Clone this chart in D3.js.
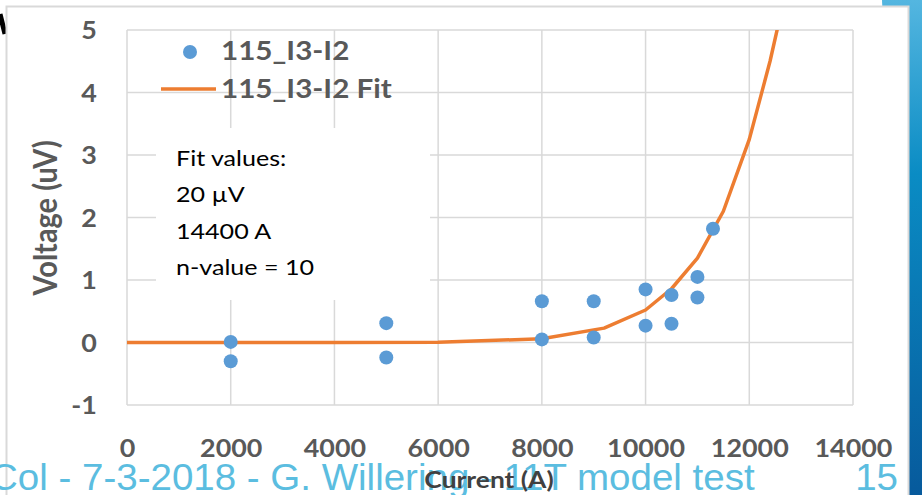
<!DOCTYPE html>
<html>
<head>
<meta charset="utf-8">
<script src="https://cdn.jsdelivr.net/npm/d3@7"></script>
<style>
  body { margin: 0; background: #fff; }
  svg { display: block; }
</style>
</head>
<body>
<script>
// measured points (current in A, voltage in uV)
var pointCurrent = [2000, 2000, 5000, 5000, 8000, 8000, 9000, 9000, 10000, 10000, 10500, 10500, 11000, 11000, 11300];
var pointVoltage = [0.01, -0.30, 0.31, -0.24, 0.66, 0.05, 0.66, 0.08, 0.85, 0.27, 0.76, 0.30, 1.05, 0.72, 1.82];

// fit curve as drawn
var fitCurrent = [0, 2000, 4000, 6000, 8000, 9200, 10000, 10500, 11000, 11500, 12000, 12400, 12550];
var fitVoltage = [0, 0, 0, 0.003, 0.06, 0.23, 0.52, 0.86, 1.35, 2.1, 3.25, 4.5, 5.05];

var xTicks = [0, 2000, 4000, 6000, 8000, 10000, 12000, 14000];
var yTicks = [-1, 0, 1, 2, 3, 4, 5];

var fitLines = ["Fit values:", "20 \u00b5V", "14400 A", "n-value = 10"];

var W = 922, H = 495;
var stretch = 1.12;

var svg = d3.select("body")
  .append("svg")
    .attr("width", W)
    .attr("height", H);

// slide decoration on the right
var grad = svg.append("defs").append("linearGradient")
    .attr("id", "band").attr("x1", 0).attr("y1", 0).attr("x2", 0).attr("y2", 1);
grad.append("stop").attr("offset", "0%").attr("stop-color", "#54b6e0");
grad.append("stop").attr("offset", "35%").attr("stop-color", "#0a8cc4");
grad.append("stop").attr("offset", "100%").attr("stop-color", "#075a9c");

svg.append("path")
    .attr("d", "M882,0 L922,0 L922,495 L905,495 Z")
    .attr("fill", "url(#band)");

svg.append("line")
    .attr("x1", 0).attr("y1", 14).attr("x2", 5).attr("y2", 34)
    .attr("stroke", "#000").attr("stroke-width", 5);

// chart frame
svg.append("rect")
    .attr("x", 6.5).attr("y", 6.5)
    .attr("width", 902).attr("height", 510)
    .attr("fill", "#fff")
    .attr("stroke", "#d9d9d9")
    .attr("stroke-width", 2);

var x = d3.scaleLinear().domain([0, 14000]).range([127, 853]);
var y = d3.scaleLinear().domain([-1, 5]).range([405, 30]);

// grid
svg.append("g").selectAll("line")
    .data(xTicks)
  .enter().append("line")
    .attr("x1", function(d) { return x(d); })
    .attr("x2", function(d) { return x(d); })
    .attr("y1", y(5)).attr("y2", y(-1))
    .attr("stroke", "#d9d9d9").attr("stroke-width", 1.5);

svg.append("g").selectAll("line")
    .data(yTicks)
  .enter().append("line")
    .attr("x1", x(0)).attr("x2", x(14000))
    .attr("y1", function(d) { return y(d); })
    .attr("y2", function(d) { return y(d); })
    .attr("stroke", "#d9d9d9").attr("stroke-width", 1.5);

// axes labels
var xAxis = svg.append("g")
    .attr("transform", "translate(0," + y(-1) + ")")
    .call(d3.axisBottom(x).tickValues(xTicks).tickSize(0).tickFormat(function(d) { return String(d); }));
xAxis.select(".domain").remove();
xAxis.selectAll("text")
    .attr("y", 52).attr("dy", null)
    .attr("transform", "scale(" + stretch + ",1)")
    .style("font-family", "Lato").style("font-weight", "bold")
    .style("font-size", "24px").style("fill", "#595959");

var yAxis = svg.append("g")
    .attr("transform", "translate(" + x(0) + ",0)")
    .call(d3.axisLeft(y).tickValues(yTicks).tickSize(0).tickFormat(function(d) { return String(d); }));
yAxis.select(".domain").remove();
yAxis.selectAll("text")
    .attr("x", -27).attr("dy", "0.36em")
    .attr("transform", "scale(" + stretch + ",1)")
    .style("font-family", "Lato").style("font-weight", "bold")
    .style("font-size", "24px").style("fill", "#595959");

// text box with fit values
svg.append("rect")
    .attr("x", 156).attr("y", 128)
    .attr("width", 274).attr("height", 172)
    .attr("fill", "#fff");

svg.append("g").selectAll("text")
    .data(fitLines)
  .enter().append("text")
    .attr("transform", function(d, i) { return "translate(176," + (166 + i * 36.3) + ") scale(1.14,1)"; })
    .style("font-family", "Lato").style("font-size", "22px").style("fill", "#000")
    .text(function(d) { return d; });

// fit curve
svg.append("clipPath").attr("id", "plot")
  .append("rect")
    .attr("x", x(0)).attr("y", y(5))
    .attr("width", x(14000) - x(0)).attr("height", y(-1) - y(5));

var line = d3.line()
    .x(function(d) { return x(d[0]); })
    .y(function(d) { return y(d[1]); });

svg.append("path")
    .datum(d3.zip(fitCurrent, fitVoltage))
    .attr("clip-path", "url(#plot)")
    .attr("d", line)
    .attr("fill", "none")
    .attr("stroke", "#ed7d31")
    .attr("stroke-width", 3.5)
    .attr("stroke-linejoin", "round");

// measured points
svg.append("g").selectAll("circle")
    .data(d3.zip(pointCurrent, pointVoltage))
  .enter().append("circle")
    .attr("cx", function(d) { return x(d[0]); })
    .attr("cy", function(d) { return y(d[1]); })
    .attr("r", 7)
    .style("fill", "#5b9bd5");

// legend
svg.append("circle")
    .attr("cx", 190).attr("cy", 52).attr("r", 7)
    .style("fill", "#5b9bd5");
svg.append("line")
    .attr("x1", 161).attr("x2", 216).attr("y1", 89).attr("y2", 89)
    .attr("stroke", "#ed7d31").attr("stroke-width", 3.5);

svg.append("g").selectAll("text")
    .data(["115_I3-I2", "115_I3-I2 Fit"])
  .enter().append("text")
    .attr("transform", function(d, i) { return "translate(221," + (60 + i * 38) + ") scale(1.14,1)"; })
    .style("font-family", "Lato").style("font-weight", "bold")
    .style("font-size", "26px").style("fill", "#595959")
    .text(function(d) { return d; });

// y axis title
svg.append("text")
    .attr("transform", "translate(57,218) scale(" + stretch + ",1) rotate(-90)")
    .attr("text-anchor", "middle")
    .style("font-family", "Lato").style("font-weight", "bold")
    .style("font-size", "29px").style("fill", "#595959")
    .text("Voltage (uV)");

// slide footer
svg.append("text")
    .attr("transform", "translate(-10,490) scale(1.07,1)")
    .style("font-family", "Liberation Sans").style("font-size", "36px")
    .style("fill", "#5bbde0")
    .text("Col - 7-3-2018 - G. Willering - 11T model test");
svg.append("text")
    .attr("transform", "translate(898,490) scale(1.07,1)")
    .attr("text-anchor", "end")
    .style("font-family", "Liberation Sans").style("font-size", "36px")
    .style("fill", "#5bbde0")
    .text("15");

// x axis title
svg.append("text")
    .attr("transform", "translate(489,488) scale(1.2,1)")
    .attr("text-anchor", "middle")
    .style("font-family", "Lato").style("font-weight", "bold")
    .style("font-size", "22px").style("fill", "#404040")
    .text("Current (A)");
</script>
</body>
</html>
